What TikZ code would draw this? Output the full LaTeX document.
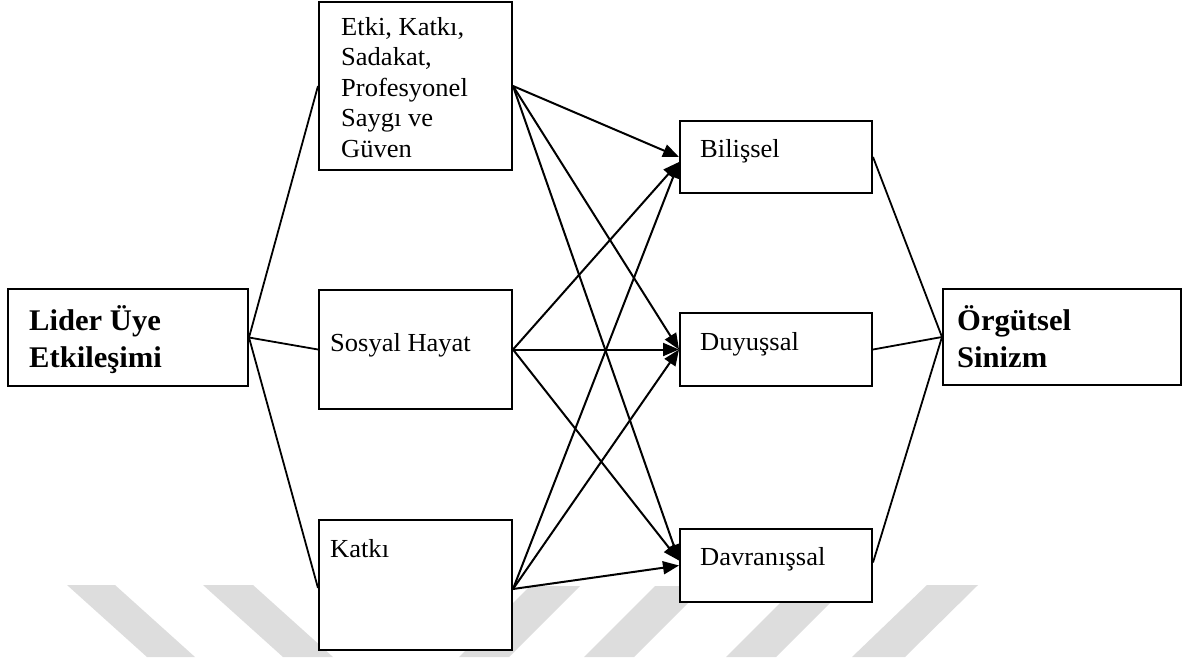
\documentclass[tikz,border=0pt]{standalone}
\usepackage{fontspec}
\setmainfont{Liberation Serif}[FakeStretch=1.02]
\usetikzlibrary{arrows.meta}

\newcommand{\regtext}{\fontsize{26}{30.5}\selectfont}
\newcommand{\boldtext}{\fontsize{30}{37.5}\selectfont\bfseries}

\tikzset{
  box/.style={draw, fill=white, line width=2pt, inner sep=0pt},
  txt/.style={anchor=base west, inner sep=0pt},
  link/.style={line width=1.8pt},
  flow/.style={line width=2pt, -{Triangle[length=16pt,width=13pt]}},
  stripe/.style={fill=gray!27, draw=none}
}

% place a rectangle by its corner coordinates (x1,y1,x2,y2)
\newcommand{\boxat}[5]{%
  \node[box, minimum width={(#4-#2)*1pt}, minimum height={(#5-#3)*1pt}]
    (#1) at ({(#2+#4)/2},{(#3+#5)/2}) {};}

\begin{document}
\begin{tikzpicture}[x=1pt, y=-1pt]
  \useasboundingbox (0,0) rectangle (1184,657);
  \fill[white] (0,0) rectangle (1184,657);

  % pale diagonal stripes along the bottom edge
  \fill[stripe] (67,585) -- (115,585) -- (195,657) -- (147,657) -- cycle;
  \fill[stripe] (203,585) -- (253,585) -- (333,657) -- (283,657) -- cycle;
  \fill[stripe] (530,586) -- (580,586) -- (509,657) -- (459,657) -- cycle;
  \fill[stripe] (655,586) -- (705,586) -- (634,657) -- (584,657) -- cycle;
  \fill[stripe] (797,586) -- (847,586) -- (776,657) -- (726,657) -- cycle;
  \fill[stripe] (927,585) -- (978,585) -- (905,657) -- (852,657) -- cycle;

  % boxes
  \boxat{lue}{8}{289}{248}{386}
  \boxat{etk}{319}{2}{512}{170}
  \boxat{sos}{319}{290}{512}{409}
  \boxat{kat}{319}{520}{512}{650}
  \boxat{bil}{680}{121}{872}{193}
  \boxat{duy}{680}{313}{872}{386}
  \boxat{dav}{680}{529}{872}{602}
  \boxat{org}{943}{289}{1181}{385}

  % texts
  \node[txt] (lue-t) at (29,330)
    {\parbox[t]{200pt}{\boldtext Lider Üye\\Etkileşimi}};
  \node[txt] (etk-t) at (341,35)
    {\parbox[t]{170pt}{\regtext Etki, Katkı,\\Sadakat,\\Profesyonel\\Saygı ve\\Güven}};
  \node[txt] (sos-t) at (330,351) {\regtext Sosyal Hayat};
  \node[txt] (kat-t) at (330,557) {\regtext Katkı};
  \node[txt] (bil-t) at (700,157) {\regtext Bilişsel};
  \node[txt] (duy-t) at (700,350) {\regtext Duyuşsal};
  \node[txt] (dav-t) at (700,565) {\regtext Davranışsal};
  \node[txt] (org-t) at (957,330)
    {\parbox[t]{200pt}{\boldtext Örgütsel\\Sinizm}};

  % leader-member exchange to its dimensions
  \draw[link] (lue.east) -- (etk.west);
  \draw[link] (lue.east) -- (sos.west);
  \draw[link] (lue.east) -- ([yshift=-3pt]kat.west);

  % dimensions of cynicism to organisational cynicism
  \draw[link] (bil.east) -- (org.west);
  \draw[link] (duy.east) -- (org.west);
  \draw[link] ([yshift=3pt]dav.east) -- (org.west);

  % every dimension to every component
  \draw[flow] (etk.east) -- (bil.west);
  \draw[flow] (etk.east) -- (duy.west);
  \draw[flow] (etk.east) -- ([yshift=5pt]dav.west);
  \draw[flow] (sos.east) -- ([yshift=-5pt]bil.west);
  \draw[flow] (sos.east) -- (duy.west);
  \draw[flow] (sos.east) -- ([yshift=5pt]dav.west);
  \draw[flow] ([yshift=-4pt]kat.east) -- ([yshift=-5pt]bil.west);
  \draw[flow] ([yshift=-4pt]kat.east) -- (duy.west);
  \draw[flow] ([yshift=-4pt]kat.east) -- (dav.west);
\end{tikzpicture}
\end{document}
